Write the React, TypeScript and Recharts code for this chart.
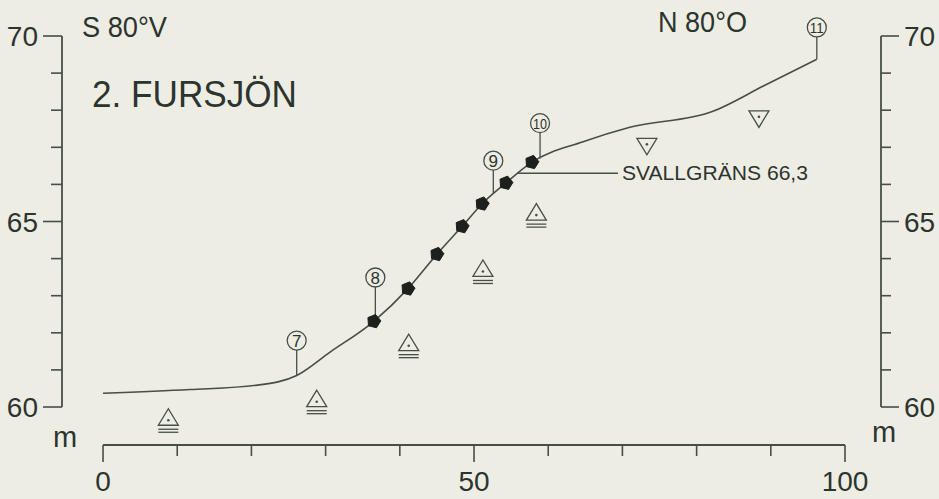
import React from 'react';
import { ComposedChart, Line, Scatter, XAxis, YAxis, ReferenceLine } from 'recharts';

// profile curve: distance (m) and height (m ö.h.)
const profileX = [0, 11.7, 20.8, 26.1, 30.6, 36.5, 41.1, 45.0, 48.4, 51.1, 54.3, 57.8, 64.7, 71.0, 82.2, 89.0, 96.2];
const profileY = [60.37, 60.47, 60.59, 60.85, 61.48, 62.31, 63.19, 64.12, 64.87, 65.48, 66.04, 66.6, 67.15, 67.54, 67.97, 68.65, 69.37];

// filled pentagons on the slope
const stoneX = [36.5, 41.1, 45.0, 48.4, 51.1, 54.3, 57.8];
const stoneY = [62.31, 63.19, 64.12, 64.87, 65.48, 66.04, 66.6];

// open triangles with double underline
const triUpX = [8.8, 28.8, 41.2, 51.2, 58.4];
const triUpY = [59.67, 60.17, 61.68, 63.68, 65.2];

// open triangles pointing down
const triDownX = [73.3, 88.4];
const triDownY = [67.08, 67.82];

// numbered points: number, distance, height on curve, height of circle
const pointNo = [7, 8, 9, 10, 11];
const pointX = [26.1, 36.7, 52.6, 58.9, 96.2];
const pointBase = [60.85, 62.31, 65.74, 66.7, 69.37];
const pointTop = [61.79, 63.49, 66.64, 67.65, 70.23];

// shore line (svallgräns)
const svallY = 66.3;
const svallFrom = 55.8;
const svallTo = 69.4;
const svallLabel = 'SVALLGRÄNS 66,3';

const yTicks = [60, 61, 62, 63, 64, 65, 66, 67, 68, 69, 70];
const yLabels = [60, 65, 70];
const xTicks = [0, 10, 20, 30, 40, 50, 60, 70, 80, 90, 100];
const xLabels = [0, 50, 100];

const X_MIN = -5.53;
const X_MAX = 104.85;
const Y_MIN = 58.976;
const Y_MAX = 70.9;

const W = 939;
const H = 499;
const TOP = 2.6;
const XAXIS_H = 54;
const PX_PER_M = (H - TOP - XAXIS_H) / (Y_MAX - Y_MIN);
const BADGE_R = 9.5;

const PAPER = '#eeede3';
const INK = '#454e48';
const TEXT = '#2c3430';
const FONT = '"Liberation Sans", Arial, sans-serif';

const profile = profileX.map((x, i) => ({ x, y: profileY[i] }));
const stones = stoneX.map((x, i) => ({ x, y: stoneY[i] }));
const triUp = triUpX.map((x, i) => ({ x, y: triUpY[i] }));
const triDown = triDownX.map((x, i) => ({ x, y: triDownY[i] }));
const points = pointNo.map((n, i) => ({ n, x: pointX[i], y: pointTop[i], base: pointBase[i] }));
const svallText = [{ x: svallTo, y: svallY, text: svallLabel }];

const LeftTick = (props: any) => {
  const { x, y, payload } = props;
  const major = yLabels.includes(payload.value);
  const len = major ? 19 : 11;
  return (
    <g>
      <line x1={x} y1={y} x2={x - len} y2={y} stroke={INK} strokeWidth={1.6} />
      {major && (
        <text x={x - len - 5} y={y} dy="0.36em" textAnchor="end" fontSize={28} fontFamily={FONT} fill={TEXT}>
          {payload.value}
        </text>
      )}
    </g>
  );
};

const RightTick = (props: any) => {
  const { x, y, payload } = props;
  const major = yLabels.includes(payload.value);
  const len = major ? 18 : 10;
  return (
    <g>
      <line x1={x} y1={y} x2={x + len} y2={y} stroke={INK} strokeWidth={1.6} />
      {major && (
        <text x={x + len + 5} y={y} dy="0.36em" textAnchor="start" fontSize={28} fontFamily={FONT} fill={TEXT}>
          {payload.value}
        </text>
      )}
    </g>
  );
};

const BottomTick = (props: any) => {
  const { x, y, payload } = props;
  const major = xLabels.includes(payload.value);
  const len = major ? 17 : 11;
  return (
    <g>
      <line x1={x} y1={y} x2={x} y2={y + len} stroke={INK} strokeWidth={1.6} />
      {major && (
        <text x={x} y={y + 46} textAnchor="middle" fontSize={28} fontFamily={FONT} fill={TEXT}>
          {payload.value}
        </text>
      )}
    </g>
  );
};

const Pentagon = ({ cx, cy }: any) => {
  const pts = [0, 1, 2, 3, 4]
    .map((k) => {
      const a = ((-90 + 72 * k + 14) * Math.PI) / 180;
      return `${cx + 7 * Math.cos(a)},${cy + 7 * Math.sin(a)}`;
    })
    .join(' ');
  return <polygon points={pts} fill="#1d211e" stroke="#1d211e" strokeWidth={1} />;
};

const TriangleUp = ({ cx, cy }: any) => (
  <g stroke={INK} strokeWidth={1.3} fill="none">
    <polygon points={`${cx},${cy - 10.5} ${cx - 10},${cy + 6} ${cx + 10},${cy + 6}`} fill={PAPER} />
    <circle cx={cx} cy={cy + 1} r={1.3} fill={INK} stroke="none" />
    <line x1={cx - 10} y1={cy + 10} x2={cx + 10} y2={cy + 10} />
    <line x1={cx - 10} y1={cy + 13} x2={cx + 10} y2={cy + 13} />
  </g>
);

const TriangleDown = ({ cx, cy }: any) => (
  <g stroke={INK} strokeWidth={1.3} fill="none">
    <polygon points={`${cx - 10},${cy - 6} ${cx + 10},${cy - 6} ${cx},${cy + 10.5}`} fill={PAPER} />
    <circle cx={cx} cy={cy} r={1.3} fill={INK} stroke="none" />
  </g>
);

const Badge = ({ cx, cy, payload }: any) => {
  const two = payload.n > 9;
  return (
    <g>
      <circle cx={cx} cy={cy} r={BADGE_R} fill={PAPER} stroke={INK} strokeWidth={1.3} />
      <text
        x={cx}
        y={cy}
        dy="0.36em"
        textAnchor="middle"
        fontSize={two ? 15 : 17}
        fontFamily={FONT}
        fill={TEXT}
        textLength={two ? 14 : undefined}
        lengthAdjust="spacingAndGlyphs"
      >
        {payload.n}
      </text>
    </g>
  );
};

const SvallLabel = ({ cx, cy, payload }: any) => (
  <text x={cx + 4} y={cy} dy="0.36em" fontSize={20} fontFamily={FONT} fill={TEXT} textLength={186} lengthAdjust="spacingAndGlyphs">
    {payload.text}
  </text>
);

export default function App() {
  return (
    <div style={{ position: 'absolute', left: 0, top: 0, width: W, height: H, background: PAPER, overflow: 'hidden' }}>
      <ComposedChart width={W} height={H} margin={{ top: TOP, right: 0, bottom: 0, left: 0 }}>
        <XAxis
          type="number"
          dataKey="x"
          domain={[X_MIN, X_MAX]}
          ticks={xTicks}
          interval={0}
          height={XAXIS_H}
          axisLine={false}
          tickLine={false}
          tickSize={0}
          tickMargin={0}
          allowDataOverflow
          tick={(p: any) => <BottomTick {...p} />}
        />
        <YAxis
          yAxisId="l"
          type="number"
          dataKey="y"
          domain={[Y_MIN, Y_MAX]}
          ticks={yTicks}
          interval={0}
          width={62}
          axisLine={false}
          tickLine={false}
          tickSize={0}
          tickMargin={0}
          allowDataOverflow
          tick={(p: any) => <LeftTick {...p} />}
        />
        <YAxis
          yAxisId="r"
          orientation="right"
          type="number"
          dataKey="y"
          domain={[Y_MIN, Y_MAX]}
          ticks={yTicks}
          interval={0}
          width={58}
          axisLine={false}
          tickLine={false}
          tickSize={0}
          tickMargin={0}
          allowDataOverflow
          tick={(p: any) => <RightTick {...p} />}
        />

        {/* axis lines */}
        <ReferenceLine yAxisId="l" segment={[{ x: X_MIN, y: 60 }, { x: X_MIN, y: 70 }]} stroke={INK} strokeWidth={1.8} ifOverflow="visible" />
        <ReferenceLine yAxisId="l" segment={[{ x: X_MAX, y: 60 }, { x: X_MAX, y: 70 }]} stroke={INK} strokeWidth={1.8} ifOverflow="visible" />
        <ReferenceLine yAxisId="l" segment={[{ x: 0, y: Y_MIN }, { x: 100, y: Y_MIN }]} stroke={INK} strokeWidth={1.8} ifOverflow="visible" />

        {/* shore line leader */}
        <ReferenceLine yAxisId="l" segment={[{ x: svallFrom, y: svallY }, { x: svallTo, y: svallY }]} stroke={INK} strokeWidth={1.4} ifOverflow="visible" />

        {/* stems of numbered points, ending at the circle */}
        {points.map((p) => (
          <ReferenceLine
            key={p.n}
            yAxisId="l"
            segment={[{ x: p.x, y: p.base }, { x: p.x, y: p.y - BADGE_R / PX_PER_M }]}
            stroke={INK}
            strokeWidth={1.3}
            ifOverflow="visible"
          />
        ))}

        <Line
          yAxisId="l"
          data={profile}
          dataKey="y"
          type="monotone"
          stroke={INK}
          strokeWidth={1.6}
          dot={false}
          activeDot={false}
          isAnimationActive={false}
        />
        <Scatter yAxisId="l" data={stones} shape={(p: any) => <Pentagon {...p} />} isAnimationActive={false} />
        <Scatter yAxisId="l" data={triUp} shape={(p: any) => <TriangleUp {...p} />} isAnimationActive={false} />
        <Scatter yAxisId="l" data={triDown} shape={(p: any) => <TriangleDown {...p} />} isAnimationActive={false} />
        <Scatter yAxisId="l" data={points} shape={(p: any) => <Badge {...p} />} isAnimationActive={false} />
        <Scatter yAxisId="l" data={svallText} shape={(p: any) => <SvallLabel {...p} />} isAnimationActive={false} />
      </ComposedChart>

      <svg width={W} height={H} style={{ position: 'absolute', left: 0, top: 0, pointerEvents: 'none' }}>
        <g fontFamily={FONT} fill={TEXT}>
          <text x={82} y={37} fontSize={29} textLength={85} lengthAdjust="spacingAndGlyphs">S 80°V</text>
          <text x={658} y={32} fontSize={29} textLength={89} lengthAdjust="spacingAndGlyphs">N 80°O</text>
          <text x={92} y={107} fontSize={37} textLength={205} lengthAdjust="spacingAndGlyphs">2. FURSJÖN</text>
          <text x={53} y={447} fontSize={29}>m</text>
          <text x={872} y={442} fontSize={29}>m</text>
        </g>
      </svg>
    </div>
  );
}
